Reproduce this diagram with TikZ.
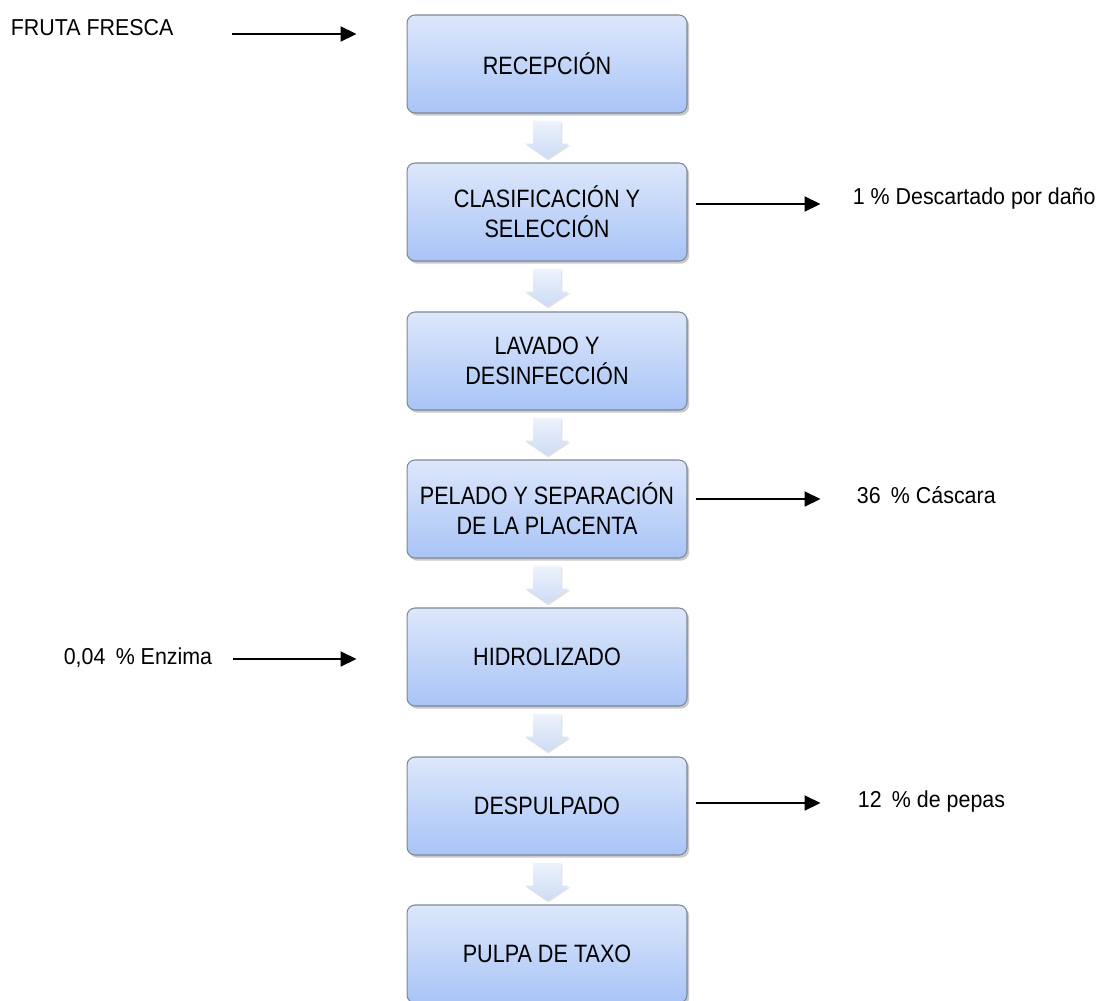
\documentclass[tikz,border=0pt]{standalone}
\usepackage{fontspec}
\setmainfont{Liberation Sans}[FakeStretch=0.86]
\newfontfamily\sidefont{Liberation Sans}[FakeStretch=0.93]
\usetikzlibrary{arrows.meta,shadows,calc}

\definecolor{boxtop}{HTML}{DDE7FB}
\definecolor{boxbot}{HTML}{A8C4F6}
\definecolor{boxline}{HTML}{7D8796}
\definecolor{chevtop}{HTML}{EEF3FC}
\definecolor{chevbot}{HTML}{CCDBF5}

\begin{document}
\begin{tikzpicture}[x=0.02cm,y=-0.02cm,
    font=\fontsize{14.3}{17}\selectfont,
    stepbox/.style={draw=boxline,line width=0.6pt,rounded corners=0.16cm,
        top color=boxtop,bottom color=boxbot,
        minimum width=5.6cm,minimum height=1.96cm,align=center,
        drop shadow={shadow xshift=1.2pt,shadow yshift=-1.5pt,opacity=0.3,fill=black!70}},
    chev/.style={top color=chevtop,bottom color=chevbot,
        drop shadow={shadow xshift=0.8pt,shadow yshift=-1pt,opacity=0.12,fill=black}},
    sidetext/.style={inner sep=0pt,text height=9.6pt,text depth=2.5pt,
        font=\sidefont\fontsize{13.1}{16}\selectfont},
    flow/.style={line width=1.2pt,-{Triangle[length=0.32cm,width=0.3cm]}}]

\useasboundingbox (0,0) rectangle (1103,1001);

% process steps
\node[stepbox] (rec) at (547,64)  {RECEPCIÓN};
\node[stepbox] (cla) at (547,212) {CLASIFICACIÓN Y\\SELECCIÓN};
\node[stepbox] (lav) at (547,361) {LAVADO Y\\DESINFECCIÓN};
\node[stepbox] (pel) at (547,509) {PELADO Y SEPARACIÓN\\DE LA PLACENTA};
\node[stepbox] (hid) at (547,657) {HIDROLIZADO};
\node[stepbox] (des) at (547,806) {DESPULPADO};
\node[stepbox] (pul) at (547,954) {PULPA DE TAXO};

% block arrows between steps
\foreach \a in {rec,cla,lav,pel,hid,des}
    \path[chev] ($(\a.south)+(-14,7)$) -- ++(0,23) -- ++(-8,0) -- ++(22,15)
        -- ++(22,-15) -- ++(-8,0) -- ++(0,-23) -- cycle;

% inputs
\node[sidetext,anchor=west] (fruta) at ($(rec.west)+(-396,-35)$) {FRUTA FRESCA};
\draw[flow] ($(rec.west)+(-175,-30)$) -- ($(rec.west)+(-50,-30)$);

\node[sidetext,anchor=east] (enzima) at ($(hid.west)+(-194,1)$) {0,04\hspace{0.45em}\% Enzima};
\draw[flow] ($(hid.west)+(-174,2)$) -- ($(hid.west)+(-50,2)$);

% outputs
\draw[flow] ($(cla.east)+(8,-8)$) -- ($(cla.east)+(133,-8)$);
\node[sidetext,anchor=west] (dano) at ($(cla.east)+(165,-14)$) {1 \% Descartado por daño};

\draw[flow] ($(pel.east)+(8,-10)$) -- ($(pel.east)+(133,-10)$);
\node[sidetext,anchor=west] (cascara) at ($(pel.east)+(169,-12)$) {36\hspace{0.45em}\% Cáscara};

\draw[flow] ($(des.east)+(8,-3)$) -- ($(des.east)+(133,-3)$);
\node[sidetext,anchor=west] (pepas) at ($(des.east)+(170,-5)$) {12\hspace{0.45em}\% de pepas};
\end{tikzpicture}
\end{document}
